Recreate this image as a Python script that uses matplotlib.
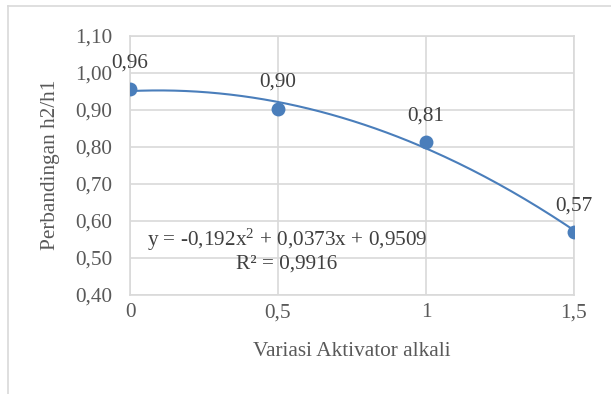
import matplotlib.pyplot as plt
import numpy as np
from matplotlib.lines import Line2D

# values
aktivator = [0, 0.5, 1, 1.5]
rasio_h2_h1 = [0.957, 0.904, 0.814, 0.569]
label_titik = ['0,96', '0,90', '0,81', '0,57']
xtick_vals = [0, 0.5, 1, 1.5]
xtick_labels = ['0', '0,5', '1', '1,5']
ytick_vals = [0.4, 0.5, 0.6, 0.7, 0.8, 0.9, 1.0, 1.1]
ytick_labels = ['0,40', '0,50', '0,60', '0,70', '0,80', '0,90', '1,00', '1,10']
persamaan = 'y = -0,192x$\\mathregular{^2}$ + 0,0373x + 0,9509\nR\u00b2 = 0,9916'

plt.rcParams['font.family'] = ['Liberation Serif', 'DejaVu Serif']
plt.rcParams['mathtext.fontset'] = 'custom'
plt.rcParams['mathtext.rm'] = 'Liberation Serif'

biru = '#4a7ebb'
abu = '#595959'
grid = '#d9d9d9'
fs = 15.3


def main():
    fig = plt.figure(figsize=(6.11, 3.94), dpi=100)
    ax = fig.add_axes([0.2128, 0.2513, 0.7266, 0.6573])

    # polynomial trendline (order 2), like the Excel one
    koef = np.polyfit(aktivator, rasio_h2_h1, 2)
    xs = np.linspace(aktivator[0], aktivator[-1], 200)
    ax.plot(xs, np.polyval(koef, xs), color=biru, lw=1.5, zorder=2)

    ax.plot(aktivator, rasio_h2_h1, 'o', color=biru, markersize=10,
            markeredgewidth=0, zorder=3)
    for x, y, t in zip(aktivator, rasio_h2_h1, label_titik):
        ax.annotate(t, (x, y), xytext=(0, 12), textcoords='offset points',
                    ha='center', va='bottom', fontsize=fs, color='#404040')

    ax.text(0.53, 0.521, persamaan, ha='center', va='center', fontsize=fs,
            color='#404040', linespacing=1.15, zorder=4)

    ax.set_xlim(0, 1.5)
    ax.set_ylim(0.4, 1.1)
    ax.set_xticks(xtick_vals)
    ax.set_xticklabels(xtick_labels)
    ax.set_yticks(ytick_vals)
    ax.set_yticklabels(ytick_labels)
    ax.tick_params(length=0, labelsize=fs, labelcolor=abu)
    ax.tick_params(axis='y', pad=13)
    ax.tick_params(axis='x', pad=6)
    ax.grid(True, color=grid, lw=1.2)
    ax.set_axisbelow(True)
    for s in ax.spines.values():
        s.set_color(grid)
        s.set_linewidth(1.2)

    fig.text(50 / 611, 1 - 165 / 394, 'Perbandingan h2/h1', rotation=90,
             ha='center', va='center', fontsize=fs, color=abu)
    fig.text(352 / 611, 1 - 352 / 394, 'Variasi Aktivator alkali',
             ha='center', va='center', fontsize=fs, color=abu)

    # chart area border (left and top visible)
    fig.add_artist(Line2D([8 / 611, 8 / 611], [0, 1 - 6 / 394],
                          color=grid, lw=1.2, transform=fig.transFigure))
    fig.add_artist(Line2D([8 / 611, 1], [1 - 6 / 394, 1 - 6 / 394],
                          color=grid, lw=1.2, transform=fig.transFigure))

    fig.savefig('out.png', dpi=100)
    plt.close()


if __name__ == "__main__":
    main()
